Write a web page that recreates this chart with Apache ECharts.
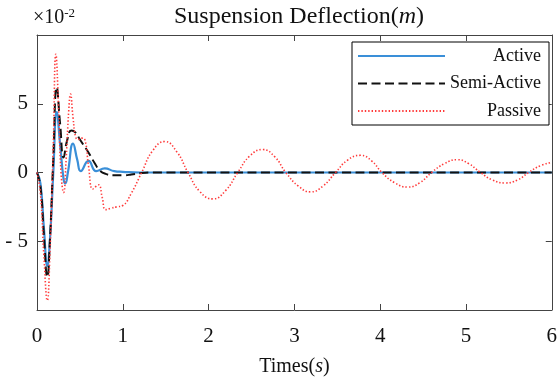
<!DOCTYPE html>
<html>
<head>
<meta charset="utf-8">
<script src="https://cdn.jsdelivr.net/npm/echarts@6/dist/echarts.min.js"></script>
<style>
html, body { margin: 0; padding: 0; background: #fff; }
#main { width: 560px; height: 382px; }
</style>
</head>
<body>
<div id="main"></div>
<script>
// time in s, deflection in 1e-2 m
var xMin = 0, xMax = 6, xStep = 1;
var yMin = -10, yMax = 10, yStep = 5;
var seriesNames = ['Active', 'Semi-Active', 'Passive'];

var active = [
	[0, 0], [0.04, -0.8], [0.08, -4], [0.12, -6.8], [0.15, -5], [0.19, 0], [0.23, 4.4],
	[0.27, 2], [0.31, -0.5], [0.33, -0.8], [0.36, 0], [0.42, 2.1], [0.47, 0.9], [0.51, 0.1],
	[0.6, 0.85], [0.69, 0.1], [0.79, 0.3], [0.9, 0.1], [1.0, 0.05], [1.2, 0], [6, 0]
];
var semiActive = [
	[0, 0], [0.04, -1], [0.08, -4.5], [0.12, -7.6], [0.15, -5], [0.19, 1], [0.23, 6.2],
	[0.27, 3.5], [0.31, 1.1], [0.35, 2.3], [0.4, 3.05], [0.45, 2.9], [0.5, 2.4], [0.6, 1.45],
	[0.68, 0.6], [0.73, 0.15], [0.8, -0.1], [0.9, -0.2], [1.0, -0.2], [1.1, -0.15],
	[1.2, -0.05], [1.35, 0], [6, 0]
];
var passive = [
	[0, 0], [0.04, -1.5], [0.08, -6], [0.12, -9.3], [0.15, -6], [0.19, 2], [0.22, 8.6],
	[0.25, 5], [0.28, 0], [0.31, -1.45], [0.34, 1], [0.37, 4.5], [0.39, 5.7], [0.42, 4],
	[0.45, 2.6], [0.48, 2.4], [0.52, 2.5], [0.56, 2.35], [0.6, 0.5], [0.65, -1.2],
	[0.69, -1.0], [0.72, -0.9], [0.76, -1.8], [0.8, -2.7], [0.86, -2.6], [0.93, -2.5],
	[1.0, -2.4], [1.1, -1.5], [1.22, 0], [1.35, 1.6], [1.49, 2.25], [1.63, 1.5], [1.76, 0],
	[1.9, -1.4], [2.05, -1.92], [2.2, -1.3], [2.34, 0], [2.48, 1.2], [2.63, 1.67], [2.77, 1.15],
	[2.9, 0], [3.05, -1.0], [3.19, -1.41], [3.33, -1.0], [3.48, 0], [3.62, 0.9], [3.77, 1.25],
	[3.9, 0.85], [4.02, 0], [4.17, -0.75], [4.32, -1.06], [4.46, -0.75], [4.6, 0], [4.75, 0.65],
	[4.9, 0.93], [5.03, 0.65], [5.17, 0], [5.31, -0.55], [5.46, -0.76], [5.6, -0.55],
	[5.73, 0], [5.87, 0.5], [6, 0.74]
];

var serif = '"Liberation Serif", "Times New Roman", serif';
var axisColor = '#444';

function boxAxis(pos, isX, showLabel) {
	var ax = {
		type: 'value',
		position: pos,
		min: isX ? xMin : yMin,
		max: isX ? xMax : yMax,
		interval: isX ? xStep : yStep,
		splitLine: { show: false },
		axisLine: { show: true, onZero: false, lineStyle: { color: axisColor, width: 1 } },
		axisTick: { show: true, inside: true, length: 6, lineStyle: { color: axisColor } },
		axisLabel: { show: showLabel, color: '#111', fontFamily: serif, fontSize: 21, margin: 9 }
	};
	return ax;
}

var xBottom = boxAxis('bottom', true, true);
xBottom.axisLabel.margin = 16;
xBottom.name = '{n|Times(}{i|s}{n|)}';
xBottom.nameLocation = 'middle';
xBottom.nameGap = 47;
xBottom.nameTextStyle = {
	rich: {
		n: { fontFamily: serif, fontSize: 20, color: '#111' },
		i: { fontFamily: serif, fontSize: 20, color: '#111', fontStyle: 'italic' }
	}
};
var xTop = boxAxis('top', true, false);

var yLeft = boxAxis('left', false, true);
yLeft.axisLabel.showMinLabel = false;
yLeft.axisLabel.showMaxLabel = false;
yLeft.axisLabel.formatter = function(v) {
	if(v < 0) return '- ' + Math.abs(v);
	return '' + v;
};
yLeft.name = '{a|×10}{b|-2}';
yLeft.nameLocation = 'end';
yLeft.nameGap = 6;
yLeft.nameTextStyle = {
	align: 'left',
	padding: [0, 0, 0, -4],
	rich: {
		a: { fontFamily: serif, fontSize: 20, color: '#111' },
		b: { fontFamily: serif, fontSize: 13, color: '#111', verticalAlign: 'top', padding: [0, 0, 9, 0] }
	}
};
var yRight = boxAxis('right', false, false);

var chart = echarts.init(document.getElementById('main'));
var option = {
	backgroundColor: '#fff',
	animation: false,
	title: {
		text: '{n|Suspension Deflection(}{i|m}{n|)}',
		left: 169,
		top: 0,
		textStyle: {
			rich: {
				n: { fontFamily: serif, fontSize: 24, color: '#111', fontWeight: 'normal' },
				i: { fontFamily: serif, fontSize: 24, color: '#111', fontWeight: 'normal', fontStyle: 'italic' }
			}
		}
	},
	grid: { left: 37, right: 8, top: 35, bottom: 59 },
	legend: {
		data: seriesNames,
		orient: 'vertical',
		right: 11,
		top: 42,
		padding: [5, 8, 5, 5],
		itemWidth: 87,
		itemHeight: 14,
		itemGap: 9.5,
		borderColor: '#000',
		borderWidth: 1,
		backgroundColor: '#fff',
		itemStyle: { opacity: 0 },
		formatter: '{a|{name}}',
		textStyle: {
			rich: {
				a: { width: 91, align: 'right', fontFamily: serif, fontSize: 18, color: '#111' }
			}
		}
	},
	xAxis: [xBottom, xTop],
	yAxis: [yLeft, yRight],
	series: [{
		name: 'Active',
		type: 'line',
		data: active,
		symbol: 'none',
		smooth: 0.5,
		z: 2,
		lineStyle: { color: '#3a8fd8', width: 2.2 },
		itemStyle: { color: '#3a8fd8' }
	}, {
		name: 'Semi-Active',
		type: 'line',
		data: semiActive,
		symbol: 'none',
		smooth: 0.5,
		z: 3,
		lineStyle: { color: '#111', width: 2, type: [9, 4.5] },
		itemStyle: { color: '#111' }
	}, {
		name: 'Passive',
		type: 'line',
		data: passive,
		symbol: 'none',
		smooth: 0.5,
		z: 4,
		lineStyle: { color: '#ff3a3a', width: 1.6, type: [1.4, 2] },
		itemStyle: { color: '#ff3a3a' }
	}]
};
chart.setOption(option);
</script>
</body>
</html>
